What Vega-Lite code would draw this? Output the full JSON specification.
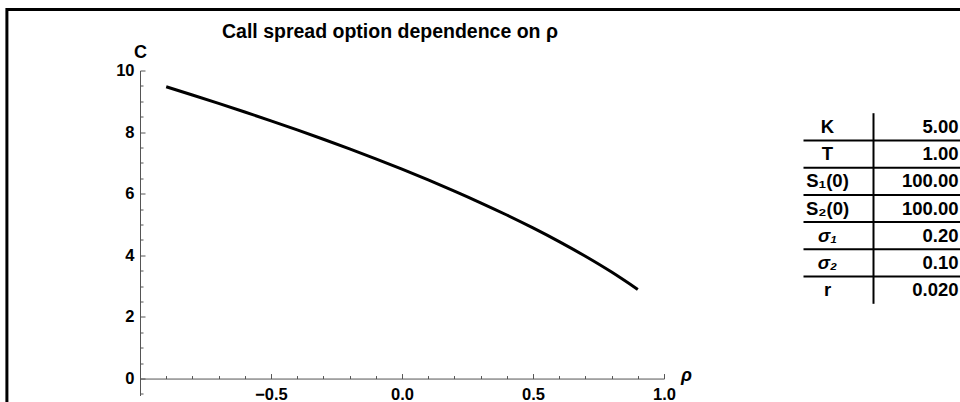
{
  "$schema": "https://vega.github.io/schema/vega-lite/v6.json",
  "background": "white",
  "autosize": {"type": "pad"},
  "padding": {"left": 5, "top": 7.5, "right": 0, "bottom": 0},
  "config": {"view": {"stroke": null}, "font": "Liberation Sans"},
  "bounds": "flush",
  "spacing": 139.5,
  "datasets": {
    "curve": [
      {"rho": -0.9, "C": 9.472}, {"rho": -0.8, "C": 9.206}, {"rho": -0.7, "C": 8.933},
      {"rho": -0.6, "C": 8.654}, {"rho": -0.5, "C": 8.367}, {"rho": -0.4, "C": 8.071},
      {"rho": -0.3, "C": 7.768}, {"rho": -0.2, "C": 7.455}, {"rho": -0.1, "C": 7.131},
      {"rho": 0.0, "C": 6.796}, {"rho": 0.1, "C": 6.447}, {"rho": 0.2, "C": 6.085},
      {"rho": 0.3, "C": 5.706}, {"rho": 0.4, "C": 5.309}, {"rho": 0.5, "C": 4.890},
      {"rho": 0.6, "C": 4.445}, {"rho": 0.7, "C": 3.969}, {"rho": 0.8, "C": 3.456},
      {"rho": 0.9, "C": 2.892}
    ],
    "params": [
      {"param": "K", "value": "5.00"},
      {"param": "T", "value": "1.00"},
      {"param": "S₁(0)", "value": "100.00"},
      {"param": "S₂(0)", "value": "100.00"},
      {"param": "σ₁", "value": "0.20"},
      {"param": "σ₂", "value": "0.10"},
      {"param": "r", "value": "0.020"}
    ]
  },
  "hconcat": [
    {
      "width": 524,
      "height": 325,
      "title": {"text": "Call spread option dependence on ρ", "fontSize": 19.5, "fontWeight": "bold", "font": "Liberation Sans", "color": "black", "anchor": "middle", "frame": "group", "offset": -34, "dx": -12},
      "data": {"name": "curve"},
      "resolve": {"axis": {"x": "independent", "y": "independent"}},
      "layer": [
        {
          "data": {"values": [{}]},
          "mark": {"type": "rect", "filled": false, "stroke": "black", "strokeWidth": 3, "clip": false},
          "encoding": {
            "x": {"datum": -1.508, "type": "quantitative", "scale": {"domain": [-1, 1], "nice": false, "zero": false}, "axis": null},
            "x2": {"datum": 5},
            "y": {"datum": 11.98, "type": "quantitative", "scale": {"domain": [-0.55, 10], "nice": false, "zero": false}, "axis": null},
            "y2": {"datum": -6}
          }
        },
        {
          "mark": {"type": "line", "opacity": 0},
          "encoding": {
            "x": {"field": "rho", "type": "quantitative", "scale": {"domain": [-1, 1], "nice": false, "zero": false},
              "axis": {"orient": "bottom", "offset": -16.94, "values": [-0.9, -0.8, -0.7, -0.6, -0.4, -0.3, -0.2, -0.1, 0.1, 0.2, 0.3, 0.4, 0.6, 0.7, 0.8, 0.9], "labels": false, "domain": false, "tickSize": -3, "tickColor": "#555", "tickWidth": 1, "grid": false, "title": null}},
            "y": {"field": "C", "type": "quantitative", "scale": {"domain": [-0.55, 10], "nice": false, "zero": false},
              "axis": {"orient": "left", "values": [-0.5, 0.5, 1, 1.5, 2.5, 3, 3.5, 4.5, 5, 5.5, 6.5, 7, 7.5, 8.5, 9, 9.5], "labels": false, "domain": false, "tickSize": -3, "tickColor": "#555", "tickWidth": 1, "grid": false, "title": null}}
          }
        },
        {
          "mark": {"type": "line", "color": "black", "strokeWidth": 3, "interpolate": "monotone"},
          "encoding": {
            "x": {"field": "rho", "type": "quantitative", "scale": {"domain": [-1, 1], "nice": false, "zero": false},
              "axis": {"orient": "bottom", "offset": -16.94, "values": [-0.5, 0, 0.5, 1], "format": ".1f",
                "labelFont": "Liberation Sans", "labelFontSize": 16.5, "labelFontWeight": "bold", "labelColor": "black", "labelPadding": 13,
                "labelFlush": false, "labelOverlap": false, "labelBound": false,
                "tickSize": -5, "tickColor": "#555", "tickWidth": 1, "domainColor": "#555", "domainWidth": 1, "grid": false,
                "title": "ρ", "titleFont": "Liberation Sans", "titleFontSize": 18, "titleFontStyle": "italic", "titleFontWeight": "bold", "titleColor": "black",
                "titleX": 546, "titleY": 2, "titleAlign": "center", "titleBaseline": "alphabetic", "titleAngle": 0}},
            "y": {"field": "C", "type": "quantitative", "scale": {"domain": [-0.55, 10], "nice": false, "zero": false},
              "axis": {"orient": "left", "values": [0, 2, 4, 6, 8, 10], "format": "d",
                "labelFont": "Liberation Sans", "labelFontSize": 16.5, "labelFontWeight": "bold", "labelColor": "black", "labelPadding": 11,
                "labelFlush": false, "labelOverlap": false, "labelBound": false,
                "tickSize": -5, "tickColor": "#555", "tickWidth": 1, "domainColor": "#555", "domainWidth": 1, "grid": false,
                "title": "C", "titleFont": "Liberation Sans", "titleFontSize": 18, "titleFontWeight": "bold", "titleColor": "black",
                "titleX": 0, "titleY": -13, "titleAlign": "center", "titleBaseline": "alphabetic", "titleAngle": 0}}
          }
        }
      ]
    },
    {
      "width": 160,
      "height": 233.2,
      "data": {"name": "params"},
      "layer": [
        {
          "transform": [{"filter": "indexof(datum.param, 'σ') < 0"}],
          "mark": {"type": "text", "align": "center", "baseline": "middle", "font": "Liberation Sans", "fontSize": 18.5, "fontWeight": "bold", "color": "black"},
          "encoding": {
            "x": {"datum": 24, "type": "quantitative", "scale": {"domain": [0, 160], "nice": false, "zero": false}, "axis": null},
            "y": {"field": "param", "type": "nominal", "scale": {"type": "band", "domain": ["K", "T", "S₁(0)", "S₂(0)", "σ₁", "σ₂", "r"], "paddingInner": 0, "paddingOuter": 0.787, "align": 1}, "axis": null},
            "text": {"field": "param"}
          }
        },
        {
          "transform": [{"filter": "indexof(datum.param, 'σ') >= 0"}],
          "mark": {"type": "text", "align": "center", "baseline": "middle", "font": "Liberation Sans", "fontSize": 18.5, "fontWeight": "bold", "fontStyle": "italic", "color": "black"},
          "encoding": {
            "x": {"datum": 24, "type": "quantitative", "scale": {"domain": [0, 160], "nice": false, "zero": false}, "axis": null},
            "y": {"field": "param", "type": "nominal", "scale": {"type": "band", "domain": ["K", "T", "S₁(0)", "S₂(0)", "σ₁", "σ₂", "r"], "paddingInner": 0, "paddingOuter": 0.787, "align": 1}, "axis": null},
            "text": {"field": "param"}
          }
        },
        {
          "mark": {"type": "text", "align": "right", "baseline": "middle", "font": "Liberation Sans", "fontSize": 18.5, "fontWeight": "bold", "color": "black"},
          "encoding": {
            "x": {"datum": 155, "type": "quantitative", "scale": {"domain": [0, 160], "nice": false, "zero": false}, "axis": null},
            "y": {"field": "param", "type": "nominal", "scale": {"type": "band", "domain": ["K", "T", "S₁(0)", "S₂(0)", "σ₁", "σ₂", "r"], "paddingInner": 0, "paddingOuter": 0.787, "align": 1}, "axis": null},
            "text": {"field": "value"}
          }
        },
        {
          "mark": {"type": "tick", "orient": "vertical", "color": "black", "size": 27.4, "thickness": 2, "opacity": 1},
          "encoding": {
            "x": {"datum": 70, "type": "quantitative", "scale": {"domain": [0, 160], "nice": false, "zero": false}, "axis": null},
            "y": {"field": "param", "type": "nominal", "scale": {"type": "band", "domain": ["K", "T", "S₁(0)", "S₂(0)", "σ₁", "σ₂", "r"], "paddingInner": 0, "paddingOuter": 0.787, "align": 1}, "axis": null}
          }
        },
        {
          "transform": [{"filter": "datum.param != 'r'"}],
          "mark": {"type": "rule", "color": "black", "strokeWidth": 2},
          "encoding": {
            "y": {"field": "param", "type": "nominal", "bandPosition": 1, "scale": {"type": "band", "domain": ["K", "T", "S₁(0)", "S₂(0)", "σ₁", "σ₂", "r"], "paddingInner": 0, "paddingOuter": 0.787, "align": 1}, "axis": null}
          }
        }
      ]
    }
  ]
}
